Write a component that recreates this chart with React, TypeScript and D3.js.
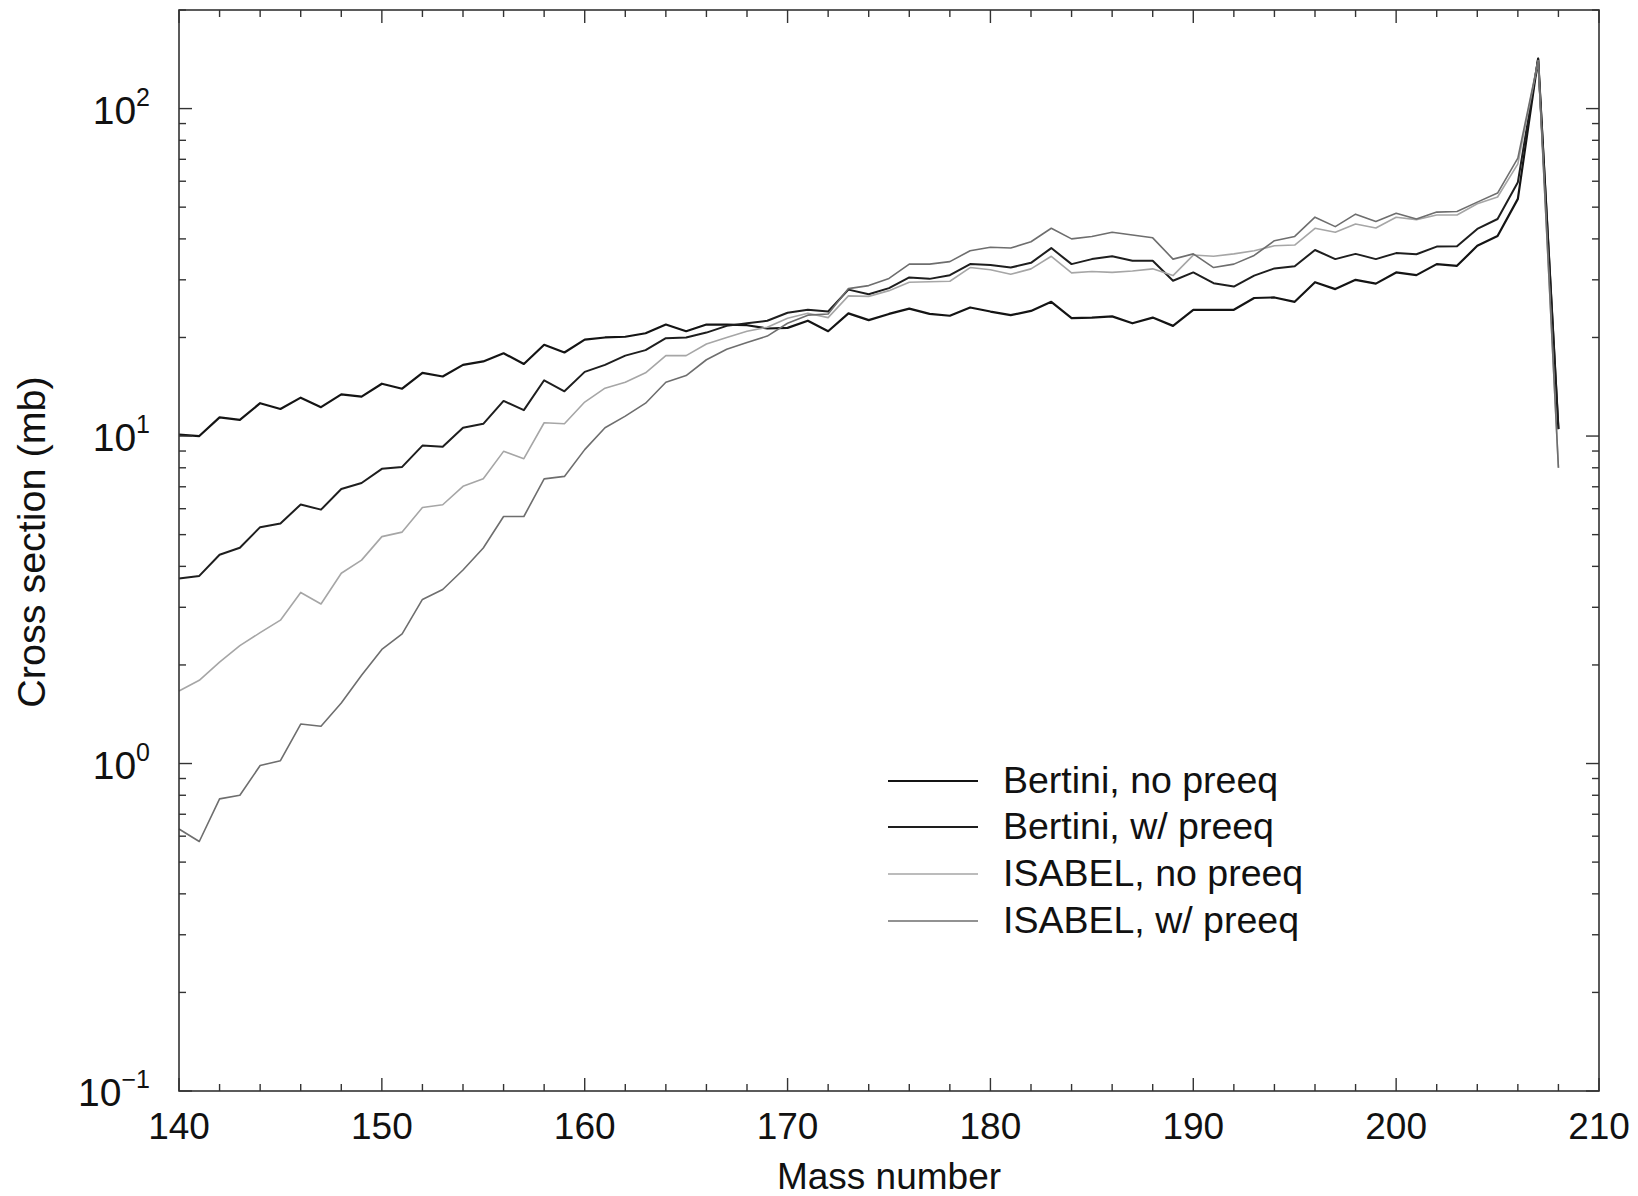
import React from "react";
import * as d3 from "d3";

const massNumbers: number[] = d3.range(140, 209);

const bertiniNoPreeq: number[] = [
  10.1, 10.0, 11.4, 11.2, 12.6, 12.1, 13.1, 12.25, 13.4, 13.2,
  14.45, 13.95, 15.6, 15.2, 16.5, 16.9, 17.9, 16.6, 19.0, 18.0,
  19.7, 20.0, 20.1, 20.6, 21.9, 20.9, 21.9, 21.9, 21.8, 21.3,
  21.4, 22.5, 20.9, 23.7, 22.6, 23.6, 24.5, 23.6, 23.3, 24.7,
  24.0, 23.4, 24.1, 25.7, 22.9, 23.0, 23.2, 22.1, 23.0, 21.7,
  24.3, 24.3, 24.3, 26.4, 26.5, 25.7, 29.5, 28.1, 30.0, 29.2,
  31.6, 31.0, 33.5, 33.1, 38.1, 40.8, 53.0, 142, 10.5,
];

const bertiniWPreeq: number[] = [
  3.67, 3.74, 4.34, 4.56, 5.27, 5.41, 6.18, 5.96, 6.89, 7.19,
  7.94, 8.05, 9.35, 9.27, 10.6, 10.9, 12.8, 12.0, 14.8, 13.7,
  15.7, 16.5, 17.6, 18.3, 19.9, 20.0, 20.7, 21.7, 22.1, 22.5,
  23.8, 24.3, 24.0, 28.0, 27.1, 28.3, 30.5, 30.2, 31.0, 33.5,
  33.3, 32.7, 33.8, 37.5, 33.5, 34.7, 35.4, 34.3, 34.3, 29.8,
  31.6, 29.3, 28.6, 30.9, 32.5, 33.0, 37.0, 34.7, 36.0, 34.7,
  36.2, 35.9, 37.9, 38.0, 42.9, 46.0, 59.6, 142, 10.5,
];

const isabelNoPreeq: number[] = [
  1.665, 1.795, 2.04, 2.29, 2.51, 2.74, 3.33, 3.07, 3.81, 4.18,
  4.93, 5.09, 6.05, 6.17, 7.02, 7.41, 8.98, 8.53, 10.98, 10.9,
  12.7, 14.0, 14.6, 15.6, 17.6, 17.6, 19.1, 20.0, 20.9, 21.5,
  22.9, 23.7, 23.0, 26.8, 26.7, 27.8, 29.5, 29.6, 29.7, 32.7,
  32.2, 31.2, 32.4, 35.4, 31.5, 31.8, 31.6, 31.9, 32.4, 30.9,
  35.7, 35.4, 36.0, 36.8, 38.1, 38.3, 43.1, 41.9, 44.4, 43.2,
  46.6, 45.8, 47.3, 47.3, 51.2, 53.7, 67.8, 140, 8.0,
];

const isabelWPreeq: number[] = [
  0.631, 0.578, 0.78, 0.80, 0.986, 1.02, 1.32, 1.30, 1.53, 1.86,
  2.23, 2.49, 3.17, 3.40, 3.90, 4.55, 5.68, 5.68, 7.40, 7.53,
  9.09, 10.6, 11.5, 12.6, 14.6, 15.3, 17.1, 18.4, 19.3, 20.2,
  22.1, 23.4, 23.6, 28.2, 28.8, 30.3, 33.5, 33.5, 34.1, 36.8,
  37.7, 37.5, 39.2, 43.1, 40.0, 40.7, 41.9, 41.1, 40.3, 34.7,
  36.0, 32.7, 33.5, 35.6, 39.5, 40.7, 46.6, 43.6, 47.6, 45.2,
  47.9, 46.0, 48.3, 48.5, 51.8, 55.2, 70.6, 140, 8.0,
];

const seriesNames: string[] = [
  "Bertini, no preeq",
  "Bertini, w/ preeq",
  "ISABEL, no preeq",
  "ISABEL, w/ preeq",
];
const seriesValues: number[][] = [bertiniNoPreeq, bertiniWPreeq, isabelNoPreeq, isabelWPreeq];
const seriesColors: string[] = ["#141414", "#1e1e1e", "#a6a6a6", "#6e6e6e"];
const seriesWidths: number[] = [2.2, 2.0, 1.6, 1.6];

const xTickLabels: number[] = [140, 150, 160, 170, 180, 190, 200, 210];
const yDecades: number[] = [2, 1, 0, -1];

const W = 1638;
const H = 1196;
const left = 179;
const right = 1599;
const top = 10;
const bottom = 1091;
const FONT = "'Liberation Sans', Arial, Helvetica, sans-serif";

export default function App() {
  const x = d3.scaleLinear().domain([140, 210]).range([left, right]);
  const y = d3.scaleLog().domain([0.1, 200]).range([bottom, top]);

  const line = d3
    .line<[number, number]>()
    .x((d) => x(d[0]))
    .y((d) => y(d[1]));

  const xMinor = d3.range(140, 211, 2);
  const yMinor: { v: number; major: boolean }[] = [];
  for (let e = -1; e <= 2; e++) {
    for (let m = 1; m <= 9; m++) {
      const v = m * Math.pow(10, e);
      if (v >= 0.1 && v <= 200) yMinor.push({ v, major: m === 1 });
    }
  }

  const axisColor = "#333";
  const legendYs = [781, 827, 874, 921];

  return (
    <div style={{ position: "absolute", left: 0, top: 0, width: W, height: H, background: "#fff" }}>
      <svg width={W} height={H} style={{ display: "block" }} fontFamily={FONT}>
        <rect x={0} y={0} width={W} height={H} fill="#fff" />
        {/* series */}
        {seriesValues.map((vals, i) => (
          <path
            key={seriesNames[i]}
            d={line(massNumbers.map((m, j) => [m, vals[j]] as [number, number])) || ""}
            fill="none"
            stroke={seriesColors[i]}
            strokeWidth={seriesWidths[i]}
            strokeLinejoin="round"
          />
        ))}
        {/* frame */}
        <rect x={left} y={top} width={right - left} height={bottom - top} fill="none" stroke={axisColor} strokeWidth={1.6} />
        {/* x ticks */}
        {xMinor.map((v) => {
          const len = v % 10 === 0 ? 13 : 7;
          return (
            <g key={"xt" + v}>
              <line x1={x(v)} x2={x(v)} y1={bottom} y2={bottom - len} stroke={axisColor} strokeWidth={1.4} />
              <line x1={x(v)} x2={x(v)} y1={top} y2={top + len} stroke={axisColor} strokeWidth={1.4} />
            </g>
          );
        })}
        {/* y ticks */}
        {yMinor.map((t, i) => {
          const len = t.major ? 13 : 7;
          return (
            <g key={"yt" + i}>
              <line x1={left} x2={left + len} y1={y(t.v)} y2={y(t.v)} stroke={axisColor} strokeWidth={1.4} />
              <line x1={right} x2={right - len} y1={y(t.v)} y2={y(t.v)} stroke={axisColor} strokeWidth={1.4} />
            </g>
          );
        })}
        {/* x tick labels */}
        {xTickLabels.map((v) => (
          <text key={"xl" + v} x={x(v)} y={1139} textAnchor="middle" fontSize={37} fill="#111">
            {v}
          </text>
        ))}
        {/* y tick labels */}
        {yDecades.map((e) => (
          <text key={"yl" + e} x={150} y={y(Math.pow(10, e)) + 15} textAnchor="end" fontSize={39} fill="#111">
            <tspan>10</tspan>
            <tspan dy={-18} fontSize={25}>
              {e < 0 ? "\u2212" + Math.abs(e) : String(e)}
            </tspan>
          </text>
        ))}
        {/* axis titles */}
        <text x={(left + right) / 2} y={1189} textAnchor="middle" fontSize={37} fill="#111">
          Mass number
        </text>
        <text
          transform={`translate(45, 542) rotate(-90)`}
          textAnchor="middle"
          fontSize={39.5}
          fill="#111"
        >
          Cross section (mb)
        </text>
        {/* legend */}
        {seriesNames.map((name, i) => (
          <g key={"lg" + i}>
            <line x1={888} x2={978} y1={legendYs[i]} y2={legendYs[i]} stroke={seriesColors[i]} strokeWidth={seriesWidths[i]} />
            <text x={1003} y={legendYs[i] + 12} fontSize={37.5} fill="#111">
              {name}
            </text>
          </g>
        ))}
      </svg>
    </div>
  );
}
